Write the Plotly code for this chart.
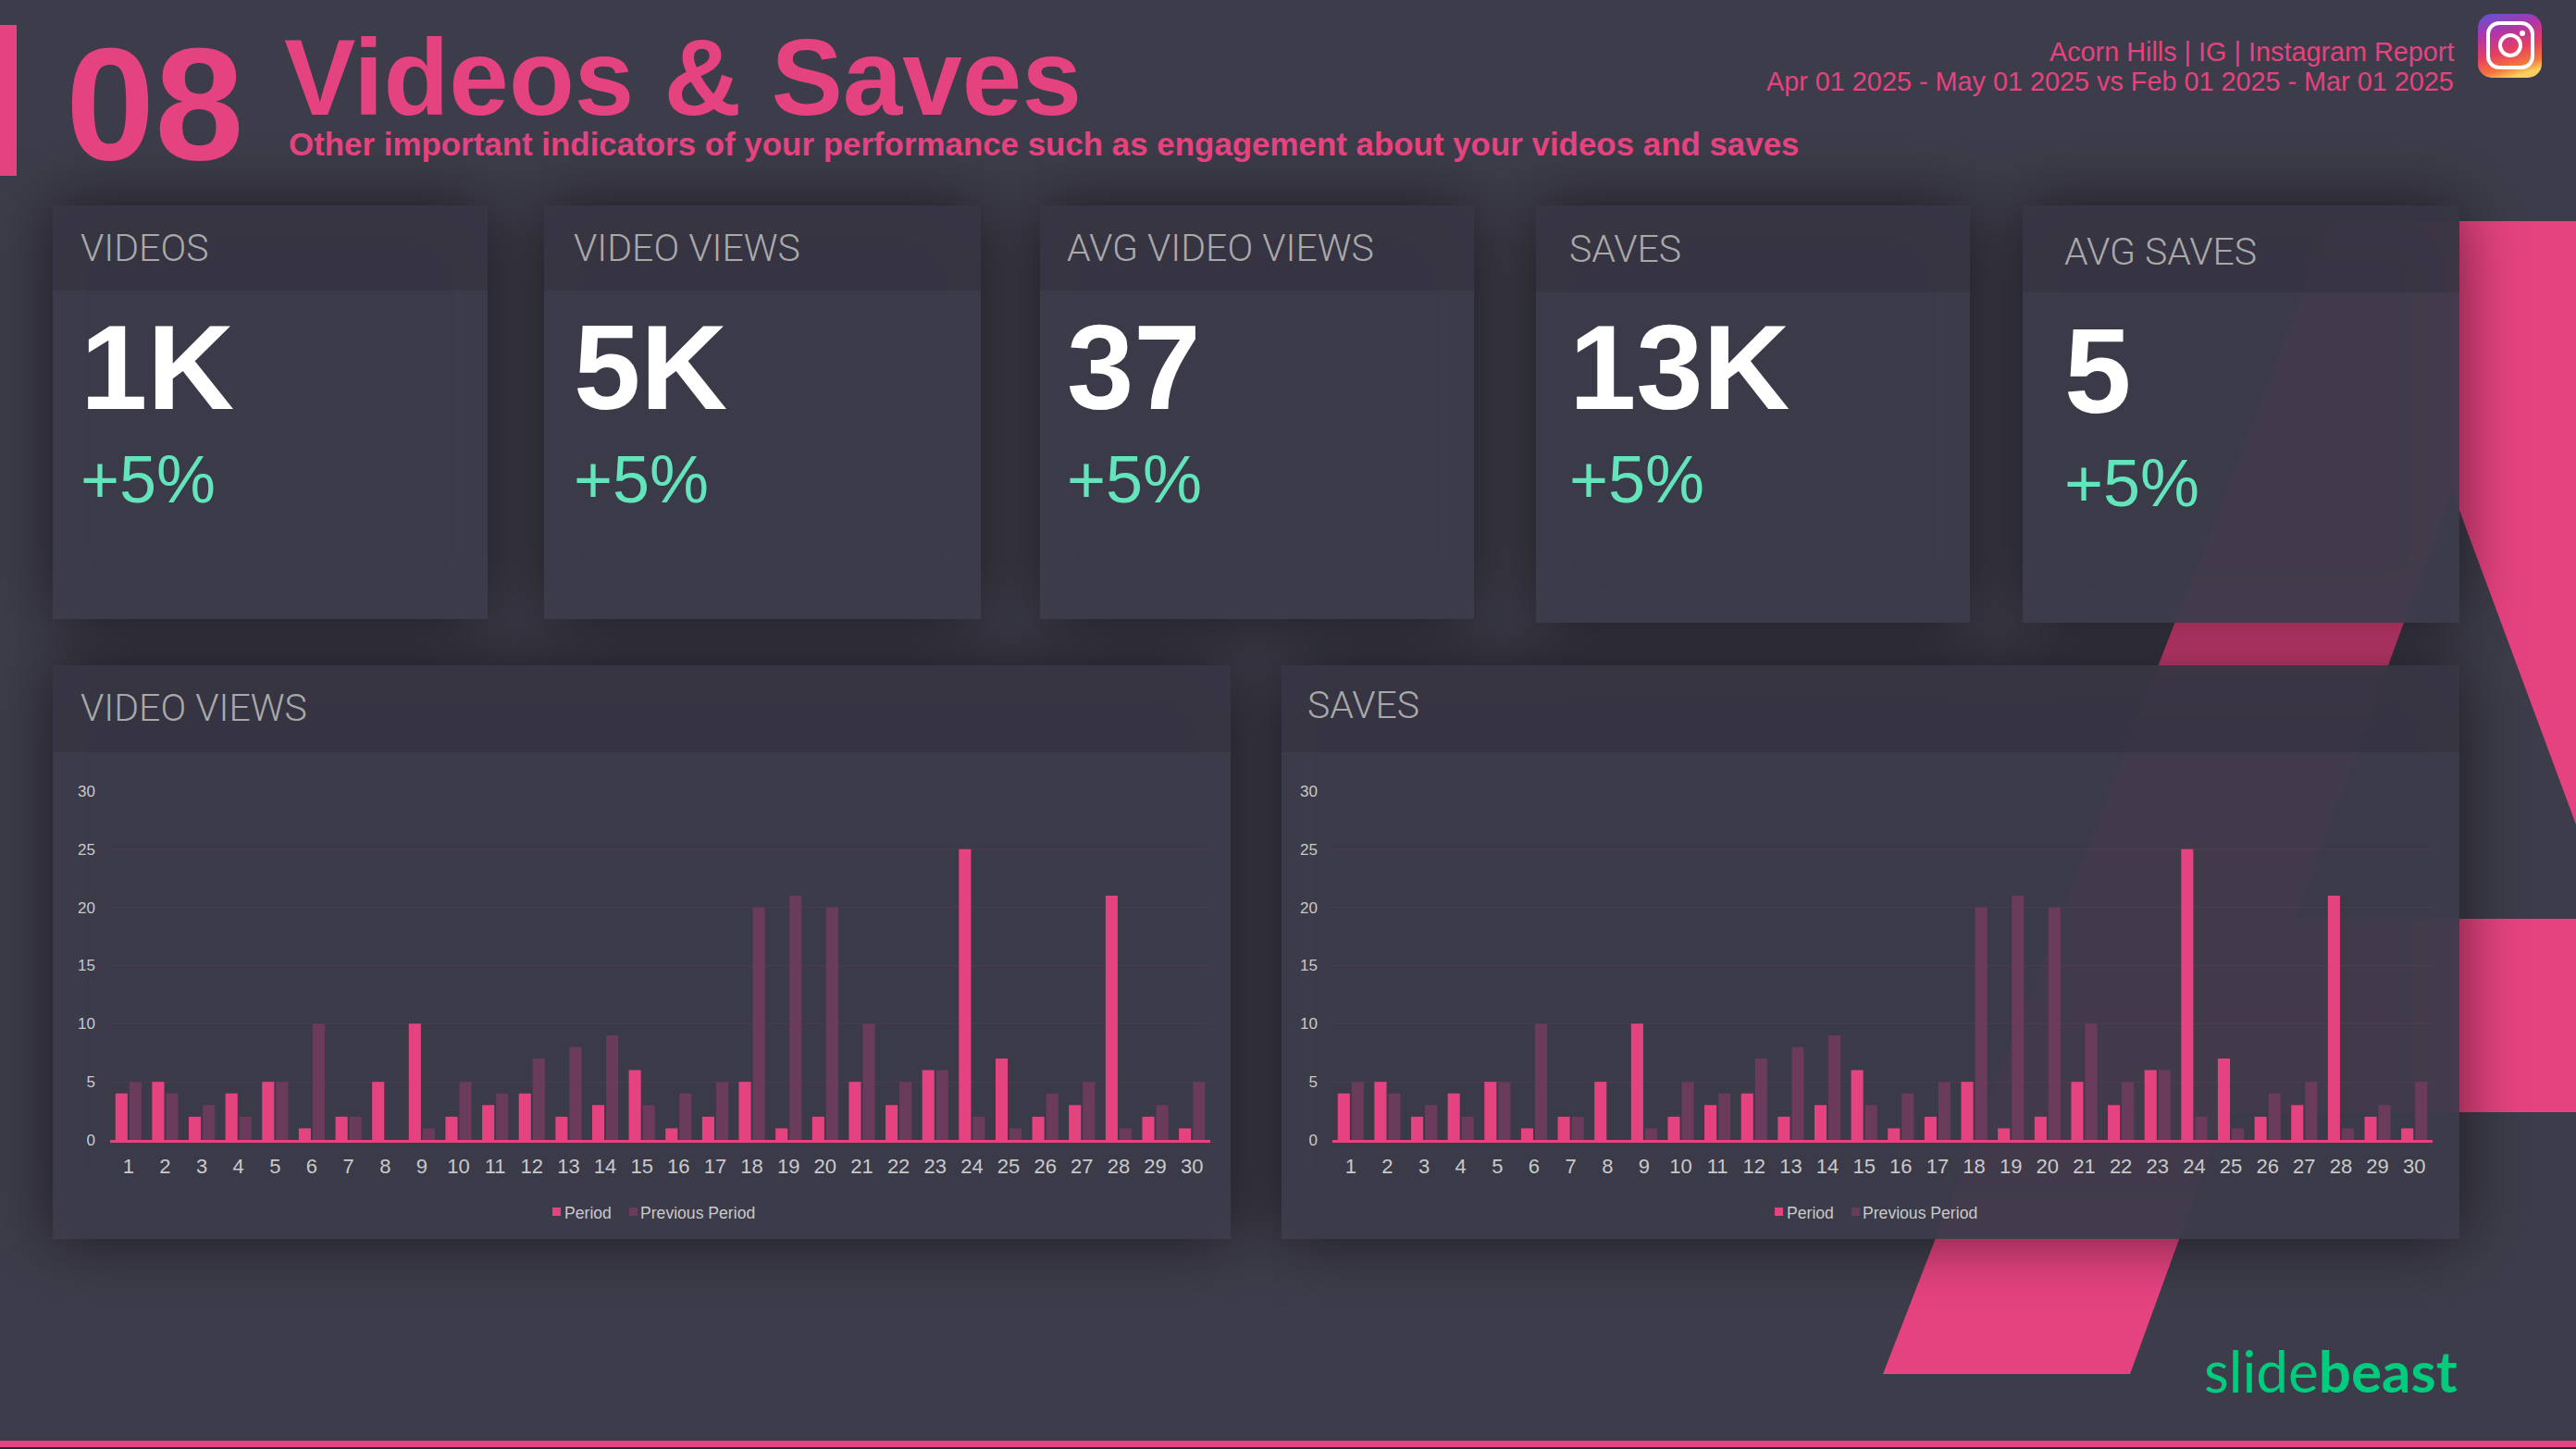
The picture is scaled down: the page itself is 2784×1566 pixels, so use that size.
import base64
import plotly.graph_objects as go

W, H = 2784, 1566
PINK = "#e5437f"
PREV = "#6a3b5b"
FONT = "Liberation Sans"
TITLE_FONT = "Roboto"

days = [str(d) for d in range(1, 31)]
period = [4, 5, 2, 4, 5, 1, 2, 5, 10, 2, 3, 4, 2, 3, 6, 1, 2, 5, 1, 2, 5, 3, 6, 25, 7, 2, 3, 21, 2, 1]
previous = [5, 4, 3, 2, 5, 10, 2, 0, 1, 5, 4, 7, 8, 9, 3, 4, 5, 20, 21, 20, 10, 5, 6, 2, 1, 4, 5, 1, 3, 5]
y_ticks = [0, 5, 10, 15, 20, 25, 30]

kpi_names = ["VIDEOS", "VIDEO VIEWS", "AVG VIDEO VIEWS", "SAVES", "AVG SAVES"]
kpi_values = ["1K", "5K", "37", "13K", "5"]
kpi_deltas = ["+5%", "+5%", "+5%", "+5%", "+5%"]
kpi_text_x = [85, 618, 1151, 1694, 2229]
kpi_rows = [(268, 397, 518), (268, 397, 518), (268, 397, 518), (269, 397, 518), (272, 401, 522)]

# x0, y0, x1, y1, bottom of header band
cards = [
    (57, 222, 527, 669, 314), (588, 222, 1060, 669, 314), (1124, 222, 1593, 669, 314),
    (1660, 222, 2129, 673, 316), (2186, 222, 2658, 673, 316),
    (57, 719, 1330, 1339, 813), (1385, 719, 2658, 1339, 813),
]


def background_svg():
    rects = "".join(f'<rect x="{c[0]}" y="{c[1]}" width="{c[2]-c[0]}" height="{c[3]-c[1]}"/>' for c in cards)
    panels = ""
    for x0, y0, x1, y1, band in cards:
        panels += f'<rect x="{x0}" y="{y0}" width="{x1-x0}" height="{y1-y0}" fill="#3e3d4b" fill-opacity="0.94"/>'
        panels += f'<rect x="{x0}" y="{y0}" width="{x1-x0}" height="{band-y0}" fill="#2f2e39" fill-opacity="0.4"/>'
    return f'''<svg xmlns="http://www.w3.org/2000/svg" width="{W}" height="{H}" viewBox="0 0 {W} {H}">
<defs>
<filter id="blur" filterUnits="userSpaceOnUse" x="-200" y="-200" width="{W+400}" height="{H+400}"><feGaussianBlur stdDeviation="35"/></filter>
<linearGradient id="ig" x1="0.2" y1="0" x2="0.5" y2="1">
<stop offset="0" stop-color="#6a4fd0"/><stop offset="0.3" stop-color="#b234a8"/>
<stop offset="0.6" stop-color="#e53f62"/><stop offset="0.85" stop-color="#f2763c"/><stop offset="1" stop-color="#f9cf5e"/>
</linearGradient>
</defs>
<rect width="{W}" height="{H}" fill="#3d3c4a"/>
<polygon fill="{PINK}" points="2519,239 2784,239 2784,891 2650,530 2302,1485 2035,1485"/>
<rect x="2400" y="993" width="384" height="209" fill="{PINK}"/>
<g filter="url(#blur)" fill="#000" opacity="0.55">{rects}</g>
{panels}
<rect x="0" y="27" width="18" height="163" fill="{PINK}"/>
<rect x="0" y="1557" width="{W}" height="7" fill="{PINK}"/>
<rect x="0" y="1564" width="{W}" height="2" fill="#2a2a33"/>
<rect x="2678" y="15" width="69" height="69" rx="15" fill="url(#ig)"/>
<rect x="2689" y="25" width="48" height="48" rx="12" fill="none" stroke="#fff" stroke-width="4"/>
<circle cx="2713" cy="49" r="11" fill="none" stroke="#fff" stroke-width="4"/>
<circle cx="2726" cy="36" r="3" fill="#fff"/>
</svg>'''


def px(x):
    return x / W


def py(y):
    return 1 - y / H


def label(x, y, text, size, color, bold=False, anchor="left", family=FONT, weight=None):
    font = dict(family=family, size=size, color=color)
    if weight:
        font["weight"] = weight
    return dict(
        x=px(x), y=py(y), xref="paper", yref="paper", text=f"<b>{text}</b>" if bold else text,
        showarrow=False, xanchor=anchor, yanchor="middle", align=anchor, font=font,
    )


annots = [
    label(69, 112, "08", 173, PINK, True),
    label(305, 84, "Videos &amp; Saves", 116, PINK, True),
    label(310, 156, "Other important indicators of your performance such as engagement about your videos and saves", 34.9, PINK, True),
    label(2654, 56, "Acorn Hills | IG | Instagram Report", 28.8, PINK, anchor="right"),
    label(2654, 88, "Apr 01 2025 - May 01 2025 vs Feb 01 2025 - Mar 01 2025", 28.8, PINK, anchor="right"),
    label(85, 765, "VIDEO VIEWS", 41, "#aaa9aa", family=TITLE_FONT, weight=300),
    label(1411, 762, "SAVES", 41, "#aaa9aa", family=TITLE_FONT, weight=300),
]
for name, value, delta, tx, row in zip(kpi_names, kpi_values, kpi_deltas, kpi_text_x, kpi_rows):
    annots.append(label(tx, row[0], name, 41, "#aaa9aa", family=TITLE_FONT, weight=300))
    annots.append(label(tx, row[1], value, 130, "#ffffff", True))
    annots.append(label(tx, row[2], delta, 72, "#64e4ba"))
annots.append(dict(
    x=px(2380), y=py(1481), xref="paper", yref="paper", text="slide<b>beast</b>", showarrow=False,
    xanchor="left", yanchor="middle", font=dict(family="Lato", size=62, color="#00cc7e"),
))

# legend drawn by hand: the swatch-to-text gap of the built-in one is too wide
legend_shapes = []
for shift in (0, 1321):
    annots.append(label(608 + shift, 1311, "Period", 17.6, "#c9c9c9"))
    annots.append(label(690 + shift, 1311, "Previous Period", 17.6, "#c9c9c9"))
    for x0, color in ((597, PINK), (680, PREV)):
        legend_shapes.append(dict(type="rect", xref="paper", yref="paper", x0=px(x0 + shift), x1=px(x0 + shift + 9),
                                  y0=py(1314), y1=py(1305), fillcolor=color, line_width=0))

fig = go.Figure()
for suffix in ("", "2"):
    fig.add_bar(x=days, y=period, name="Period", marker=dict(color=PINK, line_width=0),
                xaxis="x" + suffix, yaxis="y" + suffix)
    fig.add_bar(x=days, y=previous, name="Previous Period", marker=dict(color=PREV, line_width=0),
                xaxis="x" + suffix, yaxis="y" + suffix)

y_dom = [py(1232), py(855)]
xaxis_style = dict(type="category", showgrid=False, showline=True, linecolor=PINK, linewidth=3, ticks="",
                   tickangle=0, ticklabelstandoff=7, tickfont=dict(family=FONT, size=22, color="#c9c9c9"),
                   zeroline=False)
yaxis_style = dict(range=[0, 30], tickvals=y_ticks, showline=False, zeroline=False, ticks="",
                   gridcolor="rgba(229,67,127,0.11)", gridwidth=1, ticklabelstandoff=15,
                   tickfont=dict(family=FONT, size=17, color="#c9c9c9"), domain=y_dom)

fig.update_layout(
    width=W, height=H, autosize=False, margin=dict(l=0, r=0, t=0, b=0, pad=0, autoexpand=False),
    paper_bgcolor="#3d3c4a", plot_bgcolor="rgba(0,0,0,0)", showlegend=False,
    font=dict(family=FONT), barmode="group", bargap=0.24, bargroupgap=0.13,
    xaxis=dict(domain=[px(119), px(1308)], anchor="y", **xaxis_style),
    yaxis=dict(anchor="x", **yaxis_style),
    xaxis2=dict(domain=[px(1440), px(2629)], anchor="y2", **xaxis_style),
    yaxis2=dict(anchor="x2", **yaxis_style),
    annotations=annots,
    shapes=legend_shapes,
    images=[dict(
        source="data:image/svg+xml;base64," + base64.b64encode(background_svg().encode()).decode(),
        xref="paper", yref="paper", x=0, y=1, sizex=1, sizey=1, sizing="stretch",
        xanchor="left", yanchor="top", layer="below",
    )],
)

fig.write_html("out.html", config=dict(displayModeBar=False),
               post_script="document.body.style.margin='0';document.body.style.overflow='hidden';")
